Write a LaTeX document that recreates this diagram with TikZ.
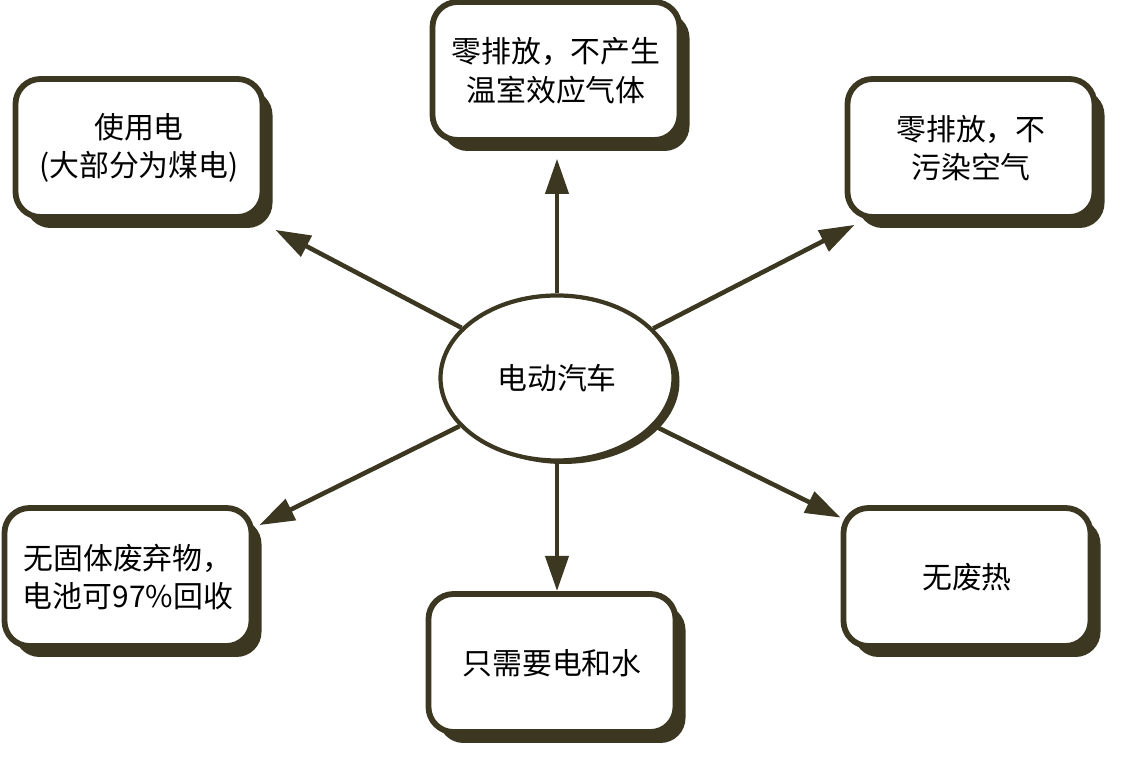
\documentclass[tikz,border=0pt]{standalone}
\usepackage{fontspec}
\setmainfont{Noto Sans CJK SC}
\usetikzlibrary{shapes.geometric, shadows, arrows.meta}
\definecolor{ink}{HTML}{3B3721}

\begin{document}
\begin{tikzpicture}[
    font=\fontsize{17pt}{22pt}\selectfont,
    box/.style={draw=ink, line width=3.3pt, rounded corners=0.5cm, fill=white,
        minimum width=4.94cm, minimum height=2.76cm, align=center,
        drop shadow={shadow xshift=0.2cm, shadow yshift=-0.22cm, fill=ink, opacity=1}},
    hub/.style={ellipse, draw=ink, line width=2.4pt, fill=white,
        minimum width=4.66cm, minimum height=3.3cm,
        drop shadow={shadow xshift=0.12cm, shadow yshift=-0.07cm, fill=ink, opacity=1}},
    arr/.style={draw=ink, line width=2.6pt, -{Triangle[length=20pt, width=13pt]}}
  ]
  \useasboundingbox (0,0) rectangle (22.74,15.16);

  % Electric car in the middle
  \node[hub] (car) at (11.14, 7.60) {电动汽车};

  % Upper row
  \node[box] (power) at (2.78, 12.20) {使用电\\(大部分为煤电)};
  \node[box] (nogas) at (11.12, 13.74) {零排放，不产生\\温室效应气体};
  \node[box] (noair) at (19.42, 12.20) {零排放，不\\污染空气};

  % Lower row
  \node[box] (waste) at (2.56, 3.62) {无固体废弃物，\\电池可97\%回收};
  \node[box] (water) at (11.04, 1.90) {只需要电和水};
  \node[box] (heat) at (19.34, 3.62) {无废热};

  % Arrows out of the centre
  \draw[arr] (car) -- ([xshift=2mm, yshift=-2mm]power.south east);
  \draw[arr, shorten >=9pt] (car.north) -- (car.north |- nogas.south);
  \draw[arr] (car) -- ([xshift=2mm, yshift=-1mm]noair.south west);
  \draw[arr] (car) -- ([xshift=1mm, yshift=-4mm]waste.north east);
  \draw[arr] (car.south) -- (car.south |- water.north);
  \draw[arr] (car) -- ([yshift=-2.5mm]heat.north west);

\end{tikzpicture}
\end{document}
